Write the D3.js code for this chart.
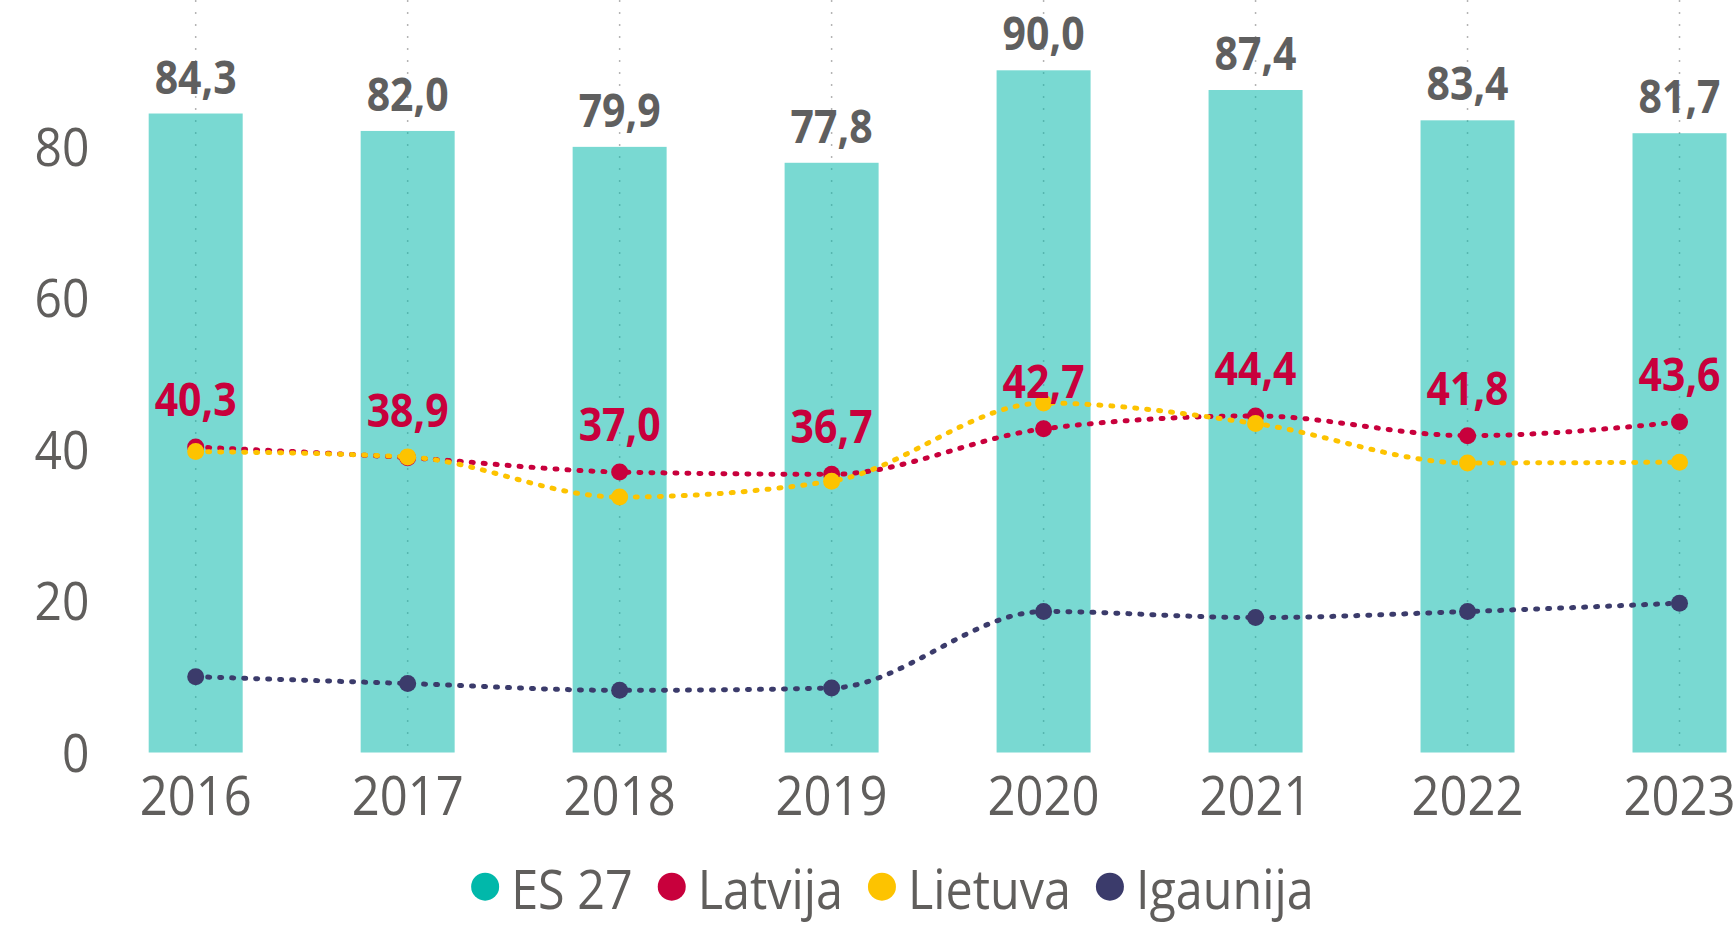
<!DOCTYPE html>
<html>
<head>
<meta charset="utf-8">
<script src="https://cdn.jsdelivr.net/npm/d3@7"></script>
<style>
    html, body { margin: 0; padding: 0; background: #ffffff; }
    svg { display: block; font-family: "Open Sans", "Noto Sans", sans-serif; }
</style>
</head>
<body>
<svg id="chart" width="1734" height="933"></svg>
<script>
var years = ["2016", "2017", "2018", "2019", "2020", "2021", "2022", "2023"];
var es27 = [84.3, 82.0, 79.9, 77.8, 90.0, 87.4, 83.4, 81.7];
var latvija = [40.3, 38.9, 37.0, 36.7, 42.7, 44.4, 41.8, 43.6];
var lietuva = [39.7, 39.0, 33.7, 35.8, 46.1, 43.4, 38.2, 38.3];
var igaunija = [10.0, 9.1, 8.2, 8.5, 18.6, 17.8, 18.6, 19.7];
var yTicks = [0, 20, 40, 60, 80];
var seriesNames = ["ES 27", "Latvija", "Lietuva", "Igaunija"];

(function () {
    var svg = d3.select("#chart");
    var textColor = "#605e5c";
    var colors = {
        "ES 27": "#01b8aa",
        "Latvija": "#c8003c",
        "Lietuva": "#fdc300",
        "Igaunija": "#3b3b6b"
    };
    // the original text is a little taller than it is wide
    var stretch = 1.12;

    var locale = d3.formatLocale({ decimal: ",", thousands: " ", grouping: [3], currency: ["", ""] });
    var fmt = locale.format(".1f");

    var x = d3.scaleBand()
        .domain(years)
        .range([89.7, 1785.5])
        .paddingInner(0.5566)
        .paddingOuter(0.2783);
    var y = d3.scaleLinear()
        .domain([0, 100])
        .range([752.5, -5.5]);

    function cx(d) { return x(d) + x.bandwidth() / 2; }

    /**
     * Appends a text element at (px, py) with the vertical stretch applied.
     */
    function addText(parent, px, py, str, size, weight, fill, anchor) {
        return parent.append("text")
            .attr("transform", "translate(" + px + "," + py + ") scale(1," + stretch + ")")
            .attr("text-anchor", anchor || "middle")
            .attr("font-size", size)
            .attr("font-weight", weight)
            .attr("fill", fill)
            .text(str);
    }

    // vertical dotted gridlines
    svg.append("g").attr("class", "grid")
        .selectAll("line")
        .data(years)
        .enter().append("line")
        .attr("x1", cx).attr("x2", cx)
        .attr("y1", 0).attr("y2", 754)
        .attr("stroke", "#b4b4b4")
        .attr("stroke-width", 1.5)
        .attr("stroke-dasharray", "2 10");

    // ES 27 bars
    svg.append("g").attr("class", "bars")
        .selectAll("rect")
        .data(es27)
        .enter().append("rect")
        .attr("x", function (d, i) { return x(years[i]); })
        .attr("y", function (d) { return y(d); })
        .attr("width", x.bandwidth())
        .attr("height", function (d) { return y(0) - y(d); })
        .attr("fill", colors["ES 27"])
        .attr("fill-opacity", 0.53);

    // y axis labels
    var yAxis = svg.append("g").attr("class", "y-axis");
    yTicks.forEach(function (t) {
        addText(yAxis, 89.5, y(t) + 19.5, String(t), 48, 400, textColor, "end");
    });

    // x axis labels
    var xAxis = svg.append("g").attr("class", "x-axis");
    years.forEach(function (yr) {
        addText(xAxis, cx(yr), 815, yr, 49, 400, textColor);
    });

    // dotted lines with markers
    var line = d3.line()
        .x(function (d, i) { return cx(years[i]); })
        .y(function (d) { return y(d); })
        .curve(d3.curveMonotoneX);

    var lineSeries = [
        { name: "Latvija", values: latvija },
        { name: "Lietuva", values: lietuva },
        { name: "Igaunija", values: igaunija }
    ];
    lineSeries.forEach(function (s) {
        var g = svg.append("g").attr("class", "series");
        g.append("path")
            .datum(s.values)
            .attr("d", line)
            .attr("fill", "none")
            .attr("stroke", colors[s.name])
            .attr("stroke-width", 5)
            .attr("stroke-linecap", "round")
            .attr("stroke-dasharray", "2 10");
        g.selectAll("circle")
            .data(s.values)
            .enter().append("circle")
            .attr("cx", function (d, i) { return cx(years[i]); })
            .attr("cy", function (d) { return y(d); })
            .attr("r", 8.5)
            .attr("fill", colors[s.name]);
    });

    // data labels
    var labels = svg.append("g").attr("class", "labels");
    es27.forEach(function (v, i) {
        addText(labels, cx(years[i]), y(v) - 20, fmt(v), 41, 700, "#5f5f5f");
    });
    latvija.forEach(function (v, i) {
        addText(labels, cx(years[i]), y(v) - 31, fmt(v), 41, 700, colors["Latvija"]);
    });

    // legend
    var legend = svg.append("g").attr("class", "legend");
    var lx = 0;
    seriesNames.forEach(function (name, i) {
        var item = legend.append("g").attr("transform", "translate(" + lx + ",0)");
        item.append("circle")
            .attr("cx", 14).attr("cy", 886.7).attr("r", 14)
            .attr("fill", colors[name]);
        var t = addText(item, 40, 909, name, 48.5, 400, textColor, "start");
        lx += 40 + t.node().getComputedTextLength() + 25;
    });
    var legendWidth = lx - 25;
    legend.attr("transform", "translate(" + (892.4 - legendWidth / 2) + ",0)");
})();
</script>
</body>
</html>
